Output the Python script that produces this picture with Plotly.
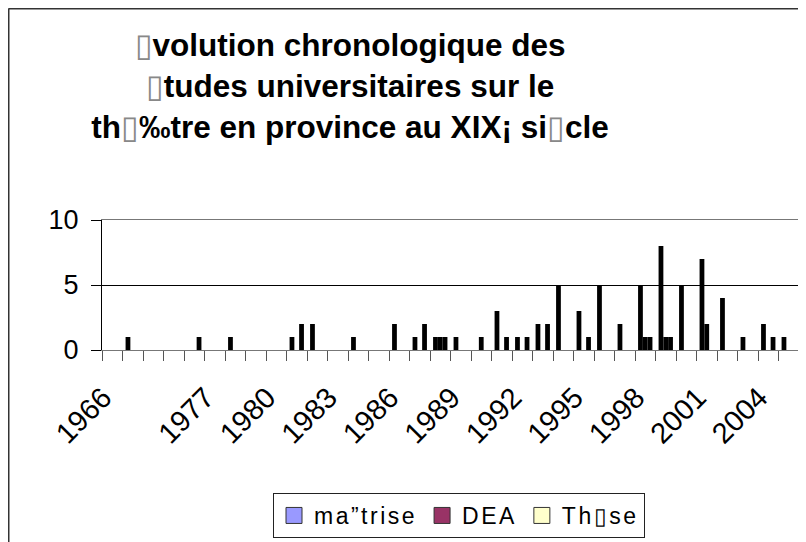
import plotly.graph_objects as go

# ---- data ----
categories = ["1966", "1968", "1972", "1975", "1976", "1977", "1978", "1979", "1980",
              "1981", "1982", "1983", "1984", "1985", "1986", "1987", "1988", "1989",
              "1990", "1991", "1992", "1993", "1994", "1995", "1996", "1997", "1998",
              "1999", "2000", "2001", "2002", "2003", "2004", "2005"]
maitrise = [0, 1, 0, 0, 0, 0, 1, 0, 0, 1, 2, 0, 1, 0, 2, 1, 1, 1, 0, 3, 1, 2, 5, 3, 5, 2, 5, 8, 5, 7, 4, 1, 2, 1]
dea      = [0, 0, 0, 0, 0, 0, 0, 0, 0, 0, 0, 0, 0, 0, 0, 0, 1, 0, 1, 0, 0, 0, 0, 0, 0, 0, 1, 1, 0, 2, 0, 0, 0, 0]
these    = [0, 0, 0, 0, 1, 0, 0, 0, 0, 2, 0, 0, 0, 0, 0, 2, 1, 0, 0, 1, 1, 2, 0, 1, 0, 0, 1, 1, 0, 0, 0, 0, 1, 0]
shown_labels = ["1966", "1977", "1980", "1983", "1986", "1989", "1992", "1995", "1998", "2001", "2004"]
y_ticks = [0, 5, 10]
series_names = ["ma\u201dtrise", "DEA", "Th\u25afse"]
legend_colors = ["#9999FF", "#993366", "#FFFFCC"]

BOX = '<span style="color:#888;font-weight:normal">\u25af</span>'
title_text = (BOX + "volution chronologique des<br>" + BOX + "tudes universitaires sur le<br>"
              "th" + BOX + "\u2030tre en province au XIX\u00a1 si" + BOX + "cle")

FONT = "Liberation Sans, Arial, sans-serif"

# figure geometry (the page adds an 8px body margin)
W, H = 798, 534
ML, MR, MT, MB = 94, 7, 212, 192
PW, PH = W - ML - MR, H - MT - MB


def px_x(x):
    return (x - ML) / PW


def px_y(y):
    return (H - MB - y) / PH


fig = go.Figure()
for vals in (maitrise, dea, these):
    fig.add_trace(go.Bar(x=categories, y=vals, marker=dict(color="black", line=dict(width=0)),
                         showlegend=False, hoverinfo="x+y"))
for name, col in zip(series_names, legend_colors):
    fig.add_trace(go.Scatter(x=[None], y=[None], mode="markers",
                             name='<span style="letter-spacing:2.5px">' + name + '</span>',
                             marker=dict(symbol="square", size=16, color=col,
                                         line=dict(color="#333", width=1))))

ticktext = [c if c in shown_labels else "" for c in categories]

fig.update_layout(
    width=W, height=H,
    margin=dict(l=ML, r=MR, t=MT, b=MB, autoexpand=False),
    paper_bgcolor="white", plot_bgcolor="white",
    barmode="group", bargap=0.3, bargroupgap=0,
    font=dict(family=FONT, color="black"),
    title=dict(text=title_text, x=342 / W, xanchor="center", xref="container",
               y=1 - 48 / H, yanchor="top", yref="container",
               font=dict(family=FONT, size=31.5, color="black", weight="bold")),
    legend=dict(orientation="h", x=px_x(265), y=px_y(485),
                xanchor="left", yanchor="top", bordercolor="#222", borderwidth=1,
                bgcolor="white", font=dict(family=FONT, size=23, color="black")),
    xaxis=dict(type="category", tickmode="array", tickvals=categories, ticktext=ticktext,
               tickson="boundaries", ticks="outside", ticklen=10, tickcolor="#555",
               tickwidth=1, showline=True, mirror=True, linecolor="#777", linewidth=1,
               showgrid=False, tickangle=-45, tickfont=dict(family=FONT, size=29),
               ticklabelstandoff=18, ticklabelshift=-9, fixedrange=True),
    yaxis=dict(range=[0, 10], tickvals=y_ticks, ticks="outside", ticklen=10,
               tickcolor="black", showline=True, linecolor="black", linewidth=1,
               showgrid=True, gridcolor="black", gridwidth=1, zeroline=False,
               tickfont=dict(family=FONT, size=27), ticklabelstandoff=7, fixedrange=True),
    shapes=[
        dict(type="line", xref="paper", yref="paper", x0=px_x(0.5), x1=1.2,
             y0=px_y(0.5), y1=px_y(0.5), line=dict(color="#333", width=2)),
        dict(type="line", xref="paper", yref="paper", x0=px_x(0.5), x1=px_x(0.5),
             y0=px_y(0.5), y1=px_y(H + 20), line=dict(color="#333", width=2)),
    ],
)

fig.write_html("out.html")
